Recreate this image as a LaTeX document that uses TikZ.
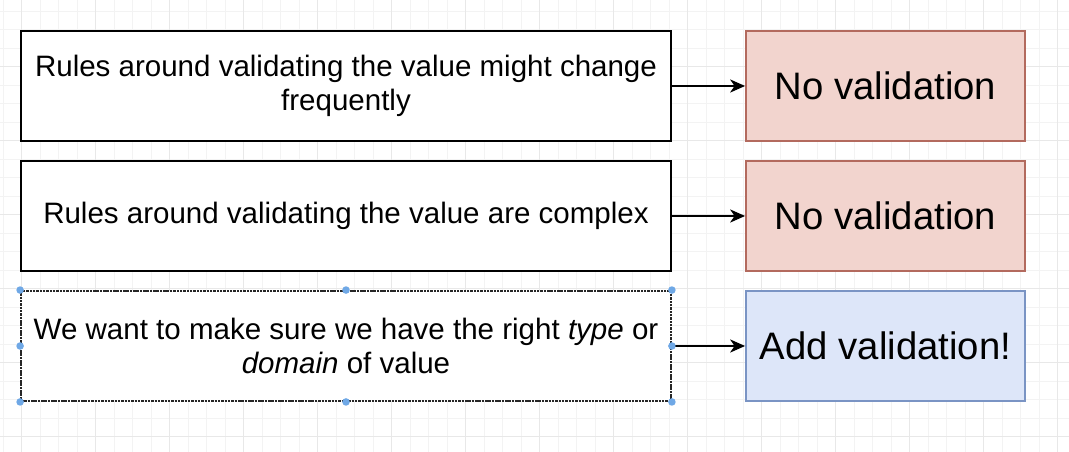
\documentclass[tikz,border=0pt]{standalone}
\usepackage{fontspec}
\setmainfont{Liberation Sans}
\usepackage{xcolor}
\usepackage{tikz}
\usetikzlibrary{arrows.meta,positioning}
\definecolor{gridminor}{HTML}{F3F3F3}
\definecolor{gridmajor}{HTML}{E8E8E8}
\definecolor{nofill}{HTML}{F2D4CE}
\definecolor{nodraw}{HTML}{B36A5E}
\definecolor{addfill}{HTML}{DDE6F9}
\definecolor{adddraw}{HTML}{7A94C4}
\definecolor{handle}{HTML}{6FA8E6}
\tikzset{
  cond/.style   ={draw=black, line width=1.1pt, fill=white, align=center,
                  minimum width=13cm, minimum height=2.2cm, inner sep=0pt,
                  font=\fontsize{16.8}{19.4}\selectfont},
  picked/.style ={cond, draw=black!85, dash pattern=on 1.4pt off 0.5pt},
  verdict/.style={line width=1.1pt, align=center, minimum width=5.58cm,
                  minimum height=2.2cm, inner sep=0pt,
                  font=\fontsize{21.8}{25}\selectfont},
  novalid/.style={verdict, draw=nodraw, fill=nofill},
  addvalid/.style={verdict, draw=adddraw, fill=addfill},
  fl/.style     ={draw=black, line width=0.75pt, -{Stealth[length=8.5pt,width=7.5pt,inset=2.5pt]}},
  knob/.style   ={circle, fill=handle, inner sep=0pt, minimum size=4.3pt},
}

\begin{document}
\begin{tikzpicture}[x=0.02cm,y=-0.02cm]
  \useasboundingbox[fill=white] (0,0) rectangle (1069,452);
  % grid
  \foreach \i in {0,...,57} \draw[gridminor, line width=0.5pt] (3.2+18.5*\i,0) -- ++(0,452);
  \foreach \i in {0,...,24} \draw[gridminor, line width=0.5pt] (0,11.2+18.5*\i) -- ++(1069,0);
  \foreach \i in {0,...,14} \draw[gridmajor, line width=0.5pt] (21.7+74*\i,0) -- ++(0,452);
  \foreach \i in {0,...,5} \draw[gridmajor, line width=0.5pt] (0,66.7+74*\i) -- ++(1069,0);

  % conditions
  \node[cond] (freq) at (346,86) {Rules around validating the value might change\\frequently};
  \node[cond] (cplx) at (346,216) {Rules around validating the value are complex};
  \node[picked] (kind) at (346,346) {We want to make sure we have the right \textit{type} or\\\textit{domain} of value};

  % outcomes
  \node[novalid] (freqno) at (885.5,86) {No validation};
  \node[novalid] (cplxno) at (885.5,216) {No validation};
  \node[addvalid] (kindadd) at (885.5,346) {Add validation!};

  \draw[fl] (freq) -- (freqno);
  \draw[fl] (cplx) -- (cplxno);
  \draw[fl] (kind) -- (kindadd);

  % selection handles
  \foreach \a in {north west,north,north east,west,east,south west,south,south east}
    \node[knob] at (kind.\a) {};
\end{tikzpicture}
\end{document}
